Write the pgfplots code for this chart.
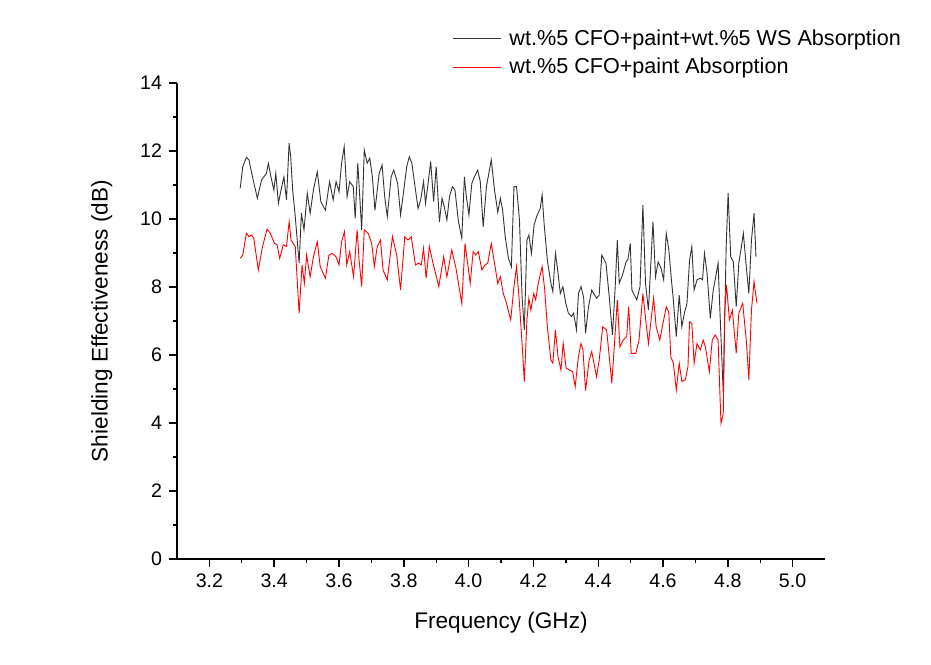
\documentclass[border=0pt]{standalone}
\usepackage{fontspec}
\setmainfont{Liberation Sans}
\usepackage{pgfplots}
\pgfplotsset{compat=1.18}

\begin{document}
\begin{tikzpicture}
\begin{axis}[
  scale only axis,
  width=324pt,
  height=238pt,
  xmin=3.1, xmax=5.1,
  ymin=0, ymax=14,
  axis x line=bottom,
  axis y line=left,
  axis line style={-, line width=0.7pt},
  tick align=outside,
  major tick length=4pt,
  minor tick length=2pt,
  tick style={line width=0.7pt, black},
  xtick={3.2,3.4,...,5.01},
  ytick={0,2,...,14},
  minor x tick num=1,
  minor y tick num=1,
  xticklabel style={/pgf/number format/.cd, fixed, fixed zerofill, precision=1},
  /pgf/number format/assume math mode=true,
  ticklabel style={font=\fontsize{9.8}{11}\selectfont},
  xlabel={Frequency (GHz)},
  ylabel={Shielding Effectiveness (dB)},
  label style={font=\fontsize{11.3}{13}\selectfont},
  xlabel style={yshift=-5pt},
  ylabel style={yshift=7pt},
  legend style={draw=none, fill=none, at={(0.41,1.13)}, anchor=north west,
    font=\fontsize{10.8}{12}\selectfont, row sep=1pt,
    /tikz/every odd column/.append style={column sep=0pt}},
  legend cell align={left},
  % the coloured key line is set inside each entry
  legend image code/.code={},
]
\addplot[color=black!80, line width=0.45pt] coordinates {
(3.295,10.90) (3.303,11.54) (3.314,11.81) (3.322,11.74) (3.333,11.24) (3.348,10.61)
(3.361,11.15) (3.376,11.34) (3.382,11.64) (3.390,11.24) (3.399,10.85) (3.405,11.34)
(3.413,10.46) (3.421,10.85) (3.430,11.24) (3.438,10.56) (3.446,12.23) (3.451,11.83)
(3.457,10.85) (3.465,10.07) (3.477,8.70) (3.484,10.17) (3.492,9.68) (3.502,10.76)
(3.511,10.17) (3.521,10.85) (3.533,11.39) (3.544,10.51) (3.558,10.26) (3.571,11.10)
(3.582,10.56) (3.591,11.10) (3.600,10.80) (3.608,11.64) (3.616,12.13) (3.625,10.66)
(3.633,11.10) (3.644,10.95) (3.650,10.02) (3.658,11.64) (3.664,10.66) (3.670,9.68)
(3.678,12.03) (3.687,11.64) (3.695,11.79) (3.703,11.24) (3.711,10.26) (3.724,11.34)
(3.733,11.59) (3.741,10.66) (3.749,10.07) (3.761,11.24) (3.769,11.44) (3.781,11.05)
(3.790,10.12) (3.800,10.85) (3.809,11.54) (3.817,11.83) (3.825,11.64) (3.834,11.00)
(3.844,10.31) (3.852,10.56) (3.861,11.10) (3.867,10.46) (3.875,11.05) (3.883,11.69)
(3.892,10.51) (3.900,11.54) (3.910,9.92) (3.918,10.61) (3.925,10.36) (3.933,9.97)
(3.941,10.66) (3.950,10.95) (3.958,10.85) (3.968,9.97) (3.979,9.43) (3.987,11.24)
(3.993,10.66) (4.001,10.12) (4.010,11.05) (4.018,11.24) (4.028,11.44) (4.036,11.10)
(4.045,9.77) (4.055,10.95) (4.070,11.74) (4.080,10.85) (4.090,10.20) (4.098,10.61)
(4.105,10.26) (4.113,9.48) (4.123,8.84) (4.132,8.60) (4.140,10.95) (4.148,10.95)
(4.157,9.97) (4.165,7.72) (4.172,6.74) (4.180,9.38) (4.186,9.53) (4.194,8.99)
(4.202,9.82) (4.210,10.07) (4.221,10.31) (4.227,10.71) (4.233,9.87) (4.243,8.79)
(4.254,8.11) (4.260,7.86) (4.268,8.99) (4.275,8.50) (4.283,7.81) (4.291,8.01)
(4.300,7.52) (4.308,7.23) (4.318,7.13) (4.324,7.23) (4.333,6.74) (4.339,7.81)
(4.347,8.01) (4.355,7.70) (4.361,6.64) (4.370,7.42) (4.380,7.91) (4.395,7.67)
(4.403,7.76) (4.411,8.94) (4.424,8.70) (4.434,7.72) (4.444,6.59) (4.452,7.91)
(4.459,9.38) (4.465,8.11) (4.475,8.35) (4.486,8.74) (4.492,8.82) (4.499,9.28)
(4.504,7.91) (4.519,7.62) (4.529,8.01) (4.538,10.41) (4.546,8.11) (4.555,7.32)
(4.562,8.60) (4.569,9.92) (4.577,8.30) (4.585,8.74) (4.594,8.55) (4.602,8.21)
(4.610,9.58) (4.618,9.10) (4.626,8.20) (4.631,7.72) (4.641,6.54) (4.650,7.76)
(4.658,6.83) (4.666,7.23) (4.674,7.52) (4.682,8.79) (4.689,9.19) (4.696,7.91)
(4.705,8.21) (4.715,8.26) (4.722,8.21) (4.728,8.99) (4.736,8.40) (4.746,7.08)
(4.755,7.91) (4.761,8.21) (4.770,8.70) (4.778,6.74) (4.786,4.87) (4.795,9.19)
(4.801,10.76) (4.809,8.89) (4.817,8.74) (4.826,7.42) (4.834,8.70) (4.842,9.19)
(4.848,9.58) (4.857,8.60) (4.865,7.81) (4.873,9.38) (4.881,10.17) (4.887,8.89)
};
\addlegendentry{\textcolor{black!80}{\rule[0.5ex]{0.85cm}{0.5pt}}\hspace{4pt}wt.\%5 CFO+paint+wt.\%5 WS Absorption}

\addplot[color=red, line width=0.45pt] coordinates {
(3.295,8.84) (3.303,8.94) (3.314,9.58) (3.322,9.48) (3.330,9.53) (3.337,9.43)
(3.351,8.50) (3.364,9.19) (3.378,9.70) (3.388,9.58) (3.401,9.28) (3.409,9.24)
(3.417,8.84) (3.428,9.24) (3.438,9.19) (3.446,9.92) (3.452,9.38) (3.465,9.19)
(3.477,7.23) (3.486,8.65) (3.493,8.11) (3.500,8.94) (3.511,8.30) (3.521,8.89)
(3.533,9.33) (3.542,8.60) (3.558,8.26) (3.569,8.94) (3.579,8.99) (3.591,8.89)
(3.600,8.65) (3.608,9.33) (3.617,9.63) (3.624,8.65) (3.633,9.04) (3.645,8.30)
(3.656,9.68) (3.662,8.79) (3.670,8.01) (3.678,9.68) (3.690,9.58) (3.701,9.28)
(3.709,8.60) (3.718,9.19) (3.728,9.38) (3.736,8.50) (3.749,8.21) (3.765,9.48)
(3.778,8.94) (3.790,7.91) (3.803,9.48) (3.813,9.38) (3.823,9.48) (3.836,8.65)
(3.846,8.70) (3.854,8.65) (3.861,9.14) (3.869,8.26) (3.879,9.19) (3.889,8.75)
(3.908,8.01) (3.923,8.89) (3.933,8.30) (3.948,9.09) (3.960,8.60) (3.979,7.52)
(3.989,9.28) (3.997,8.70) (4.005,8.11) (4.014,9.04) (4.022,8.94) (4.030,9.04)
(4.041,8.50) (4.051,8.65) (4.059,8.70) (4.070,9.28) (4.080,8.70) (4.090,8.10)
(4.098,8.30) (4.107,7.81) (4.117,7.52) (4.130,7.03) (4.140,8.01) (4.148,8.60)
(4.157,7.52) (4.165,6.34) (4.172,5.22) (4.180,7.03) (4.186,7.67) (4.192,7.32)
(4.201,7.81) (4.207,7.62) (4.215,8.11) (4.227,8.60) (4.235,7.91) (4.243,6.83)
(4.254,5.85) (4.260,5.76) (4.268,6.74) (4.276,5.95) (4.285,5.56) (4.292,6.34)
(4.301,5.61) (4.311,5.56) (4.321,5.51) (4.329,5.07) (4.339,5.95) (4.347,6.34)
(4.353,6.15) (4.361,4.95) (4.372,5.85) (4.380,6.10) (4.395,5.36) (4.403,5.85)
(4.414,6.83) (4.426,6.74) (4.442,5.17) (4.451,6.44) (4.459,7.62) (4.467,6.24)
(4.477,6.44) (4.488,6.54) (4.494,7.42) (4.502,6.05) (4.516,6.05) (4.526,6.44)
(4.538,7.81) (4.549,6.83) (4.555,6.34) (4.562,6.93) (4.571,7.67) (4.579,6.83)
(4.590,6.44) (4.600,6.93) (4.610,7.42) (4.618,7.25) (4.624,5.95) (4.632,5.76)
(4.641,4.97) (4.650,5.76) (4.658,5.22) (4.669,5.27) (4.677,5.66) (4.682,6.98)
(4.689,6.93) (4.696,5.76) (4.705,6.34) (4.715,6.15) (4.724,6.44) (4.731,6.24)
(4.743,5.51) (4.752,6.44) (4.761,6.59) (4.770,6.44) (4.776,4.77) (4.779,3.99)
(4.786,4.28) (4.790,7.23) (4.796,8.06) (4.805,7.03) (4.814,7.32) (4.826,6.05)
(4.834,7.23) (4.846,7.52) (4.857,6.44) (4.865,5.27) (4.873,7.32) (4.881,8.16)
(4.890,7.52)
};
\addlegendentry{\textcolor{red}{\rule[0.5ex]{0.85cm}{0.5pt}}\hspace{4pt}wt.\%5 CFO+paint Absorption}
\end{axis}
% page frame in the reference's proportions (axis box sits at the origin)
\path (-88.5pt,-52.5pt) rectangle ++(465.5pt,332pt);
\end{tikzpicture}
\end{document}
